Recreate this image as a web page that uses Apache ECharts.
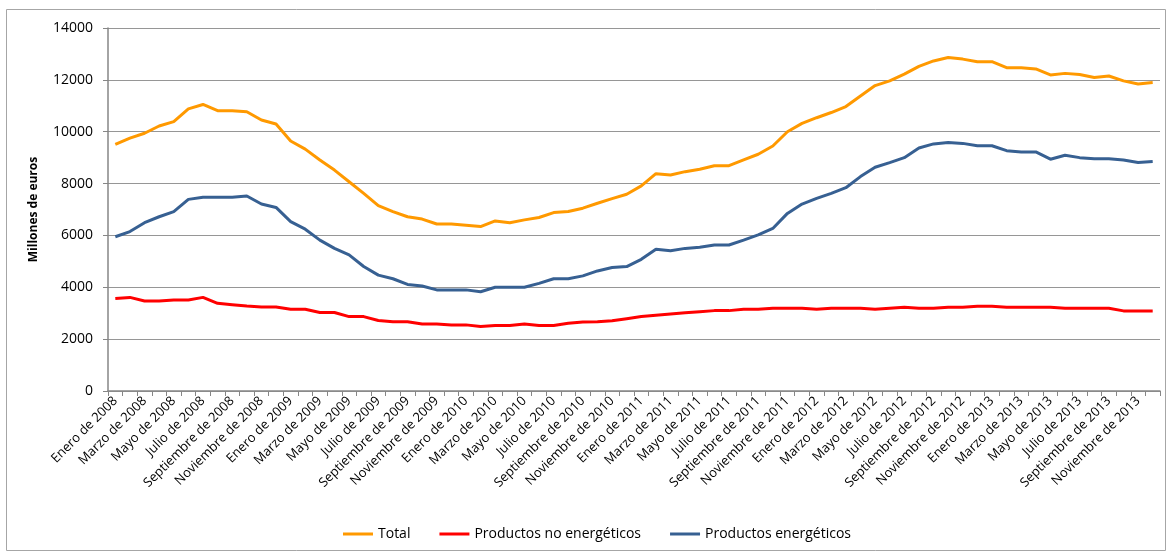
<!DOCTYPE html>
<html><head><meta charset="utf-8">
<script src="https://cdn.jsdelivr.net/npm/echarts@6/dist/echarts.min.js"></script>
<style>html,body{margin:0;padding:0;background:#fff}#c{width:1169px;height:554px}</style>
</head><body><div id="c"></div>
<script>
const monthNames = ['Enero','Febrero','Marzo','Abril','Mayo','Junio','Julio','Agosto','Septiembre','Octubre','Noviembre','Diciembre'];
const years = [2008,2009,2010,2011,2012,2013];
const categories = [];
years.forEach(y => monthNames.forEach(m => categories.push(m + ' de ' + y)));

const total = [9510,9750,9940,10220,10390,10880,11050,10810,10810,10770,10450,10300,
  9640,9330,8910,8520,8070,7620,7150,6920,6720,6630,6440,6440,
  6390,6340,6560,6490,6600,6690,6880,6920,7050,7240,7420,7590,
  7910,8380,8330,8460,8550,8690,8690,8910,9130,9450,10000,10320,
  10540,10740,10970,11380,11780,11960,12220,12520,12730,12860,12800,12700,
  12700,12470,12470,12420,12190,12250,12210,12090,12150,11960,11840,11900];
const noEnergeticos = [3570,3610,3470,3470,3510,3510,3610,3380,3330,3280,3240,3240,
  3150,3150,3030,3030,2870,2870,2720,2670,2670,2580,2580,2550,
  2550,2490,2530,2530,2580,2530,2530,2610,2660,2670,2710,2790,
  2870,2920,2970,3020,3060,3100,3100,3150,3150,3190,3190,3190,
  3150,3190,3190,3190,3150,3190,3230,3190,3190,3230,3230,3270,
  3270,3230,3230,3230,3230,3190,3190,3190,3190,3090,3090,3090];
const energeticos = [5950,6150,6490,6720,6920,7390,7470,7470,7470,7520,7210,7080,
  6530,6240,5820,5500,5250,4800,4470,4330,4110,4050,3900,3900,
  3900,3830,4000,4000,4000,4150,4330,4330,4440,4630,4760,4800,
  5080,5470,5410,5500,5540,5630,5630,5820,6020,6270,6850,7210,
  7430,7620,7840,8270,8630,8810,9000,9370,9530,9580,9550,9460,
  9460,9270,9220,9220,8940,9090,9000,8960,8960,8910,8810,8850];
const seriesNames = ['Total','Productos no energéticos','Productos energéticos'];
const colors = ['#FF9900','#FF0000','#376092'];

const chart = echarts.init(document.getElementById('c'));
const font = '"Open Sans", "Noto Sans", sans-serif';
chart.setOption({
  animation: false,
  textStyle: {fontFamily: font},
  graphic: [{type:'rect', shape:{x:6.5,y:9.5,width:1159,height:541}, style:{fill:'none', stroke:'#a6a6a6', lineWidth:1}, silent:true}],
  grid: {left:108, right:9, top:28, bottom:163, containLabel:false},
  legend: {
    bottom: 8, left: 338, itemGap: 29, itemWidth: 30, itemHeight: 3,
    icon: 'rect',
    textStyle: {fontFamily: font, fontSize: 14, color:'#000'},
    data: seriesNames
  },
  xAxis: {
    type: 'category', data: categories, boundaryGap: true,
    axisLine: {lineStyle:{color:'#868686', width:1.5}},
    axisTick: {show:true, interval:0, length:5, lineStyle:{color:'#868686'}},
    axisLabel: {interval:1, rotate:45, fontSize:13, color:'#000', fontFamily: font, margin:8}
  },
  yAxis: {
    type: 'value', min:0, max:14000, interval:2000,
    name: 'Millones de euros', nameLocation:'middle', nameGap:68, nameRotate:90,
    nameTextStyle: {fontWeight:'bold', fontSize:12, color:'#000', fontFamily: font},
    axisLine: {show:true, lineStyle:{color:'#868686', width:1.5}},
    axisTick: {show:true, length:5, lineStyle:{color:'#868686'}},
    axisLabel: {fontSize:14, color:'#000', fontFamily: font, margin:15, formatter: v => String(v)},
    splitLine: {lineStyle:{color:'#969696', width:1}}
  },
  series: [
    {name:seriesNames[0], type:'line', data:total, symbol:'none', lineStyle:{width:3, color:colors[0]}, itemStyle:{color:colors[0]}},
    {name:seriesNames[1], type:'line', data:noEnergeticos, symbol:'none', lineStyle:{width:3, color:colors[1]}, itemStyle:{color:colors[1]}},
    {name:seriesNames[2], type:'line', data:energeticos, symbol:'none', lineStyle:{width:3, color:colors[2]}, itemStyle:{color:colors[2]}}
  ]
});
</script></body></html>
